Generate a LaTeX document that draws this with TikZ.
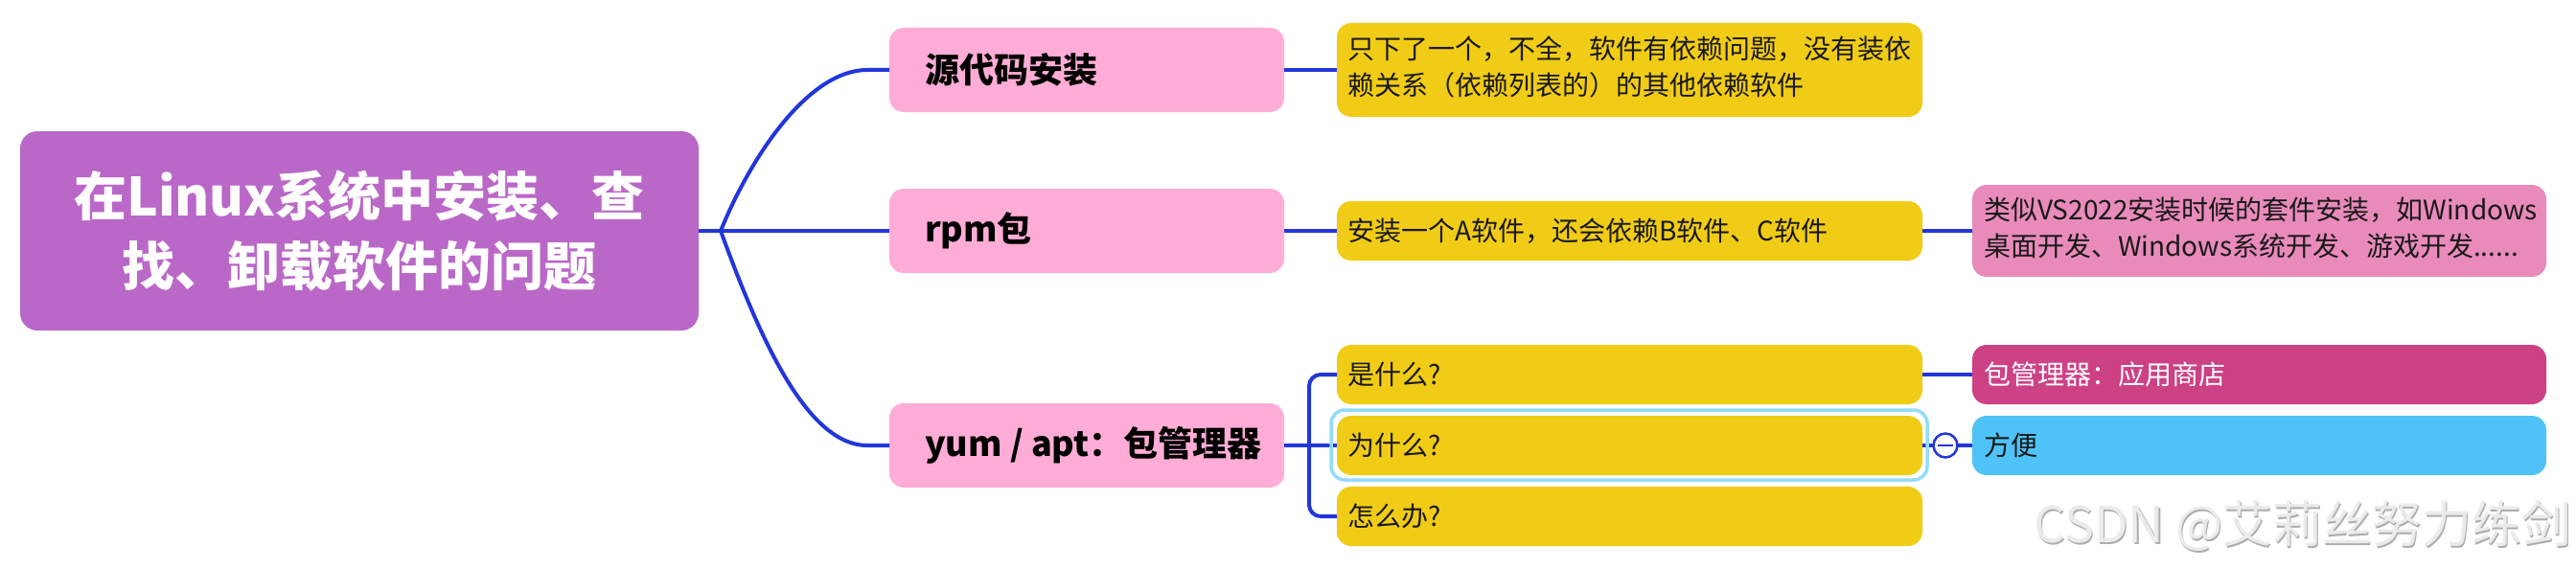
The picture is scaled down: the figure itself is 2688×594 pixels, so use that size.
\documentclass[tikz,border=0pt]{standalone}
\usepackage{fontspec}
\newfontfamily\cjk{Noto Sans CJK SC}
\usetikzlibrary{calc}
\definecolor{rootc}{HTML}{BA68C8}
\definecolor{pinkc}{HTML}{FFADD6}
\definecolor{yelc}{HTML}{F1CC16}
\definecolor{rpc}{HTML}{E98BBA}
\definecolor{magc}{HTML}{CD4185}
\definecolor{cyanc}{HTML}{4FC3F7}
\definecolor{linec}{HTML}{2236D9}
\definecolor{hlc}{HTML}{93DCF9}
\begin{document}
\begin{tikzpicture}[x=1pt,y=-1pt,
  box/.style={rounded corners=15pt, inner ysep=0pt, outer sep=0pt, anchor=west},
  lone/.style={box, fill=pinkc, minimum width=412pt, minimum height=88pt, inner xsep=37pt, text=black, font=\cjk\bfseries\fontsize{36}{40}\selectfont},
  yel/.style={box, fill=yelc, minimum width=611pt, minimum height=62pt, inner xsep=11pt, text=black!90, font=\cjk\fontsize{28}{37.5}\selectfont},
  rbox/.style={box, minimum width=599pt, minimum height=62pt, inner xsep=12pt, font=\cjk\fontsize{28}{37.5}\selectfont},
  conn/.style={draw=linec, line width=4pt},
  hl/.style={draw=hlc, line width=3.5pt, rounded corners=14pt}
]
\useasboundingbox (0,0) rectangle (2688,594);

% root
\node[box, fill=rootc, minimum width=708pt, minimum height=208pt, rounded corners=18pt,
      text=white, align=center, font=\cjk\bfseries\fontsize{55}{73}\selectfont]
      (root) at (21,241) {在Linux系统中安装、查\\找、卸载软件的问题};

% level 1
\node[lone] (s1)  at (928,73)  {\makebox[338pt][l]{源代码安装}};
\node[lone] (rpm) at (928,241) {\makebox[338pt][l]{rpm包}};
\node[lone] (yum) at (928,465) {\makebox[338pt][l]{yum / apt：包管理器}};

% level 2
\node[yel, minimum height=98pt] (y1) at (1395,73)
  {\makebox[589pt][l]{\begin{tabular}{@{}l@{}}只下了一个，不全，软件有依赖问题，没有装依\\赖关系（依赖列表的）的其他依赖软件\end{tabular}}};
\node[yel] (y2) at (1395,241) {\makebox[589pt][l]{安装一个A软件，还会依赖B软件、C软件}};
\node[yel] (what) at (1395,391) {\makebox[589pt][l]{是什么?}};
\node[yel] (why)  at (1395,465) {\makebox[589pt][l]{为什么?}};
\node[yel] (how)  at (1395,539) {\makebox[589pt][l]{怎么办?}};

% level 3
\node[rbox, fill=rpc, minimum height=96pt, text=black!90] (rp) at (2058,241)
  {\makebox[575pt][l]{\begin{tabular}{@{}l@{}}类似VS2022安装时候的套件安装，如Windows\\桌面开发、Windows系统开发、游戏开发......\end{tabular}}};
\node[rbox, fill=magc, text=white] (store) at (2058,391) {\makebox[575pt][l]{包管理器：应用商店}};
\node[rbox, fill=cyanc, text=black!90] (conv) at (2058,465) {\makebox[575pt][l]{方便}};

% connectors
\coordinate (hub) at (752,241);
\coordinate (fork) at (1366,465);
\draw[conn] (root.east) -- (hub);
\draw[conn] (hub) .. controls (785,160) and (845,73) .. (905,73) -- (s1.west);
\draw[conn] (hub) -- (rpm.west);
\draw[conn] (hub) .. controls (790,345) and (840,465) .. (905,465) -- (yum.west);
\draw[conn] (s1.east) -- (y1.west);
\draw[conn] (rpm.east) -- (y2.west);
\draw[conn] (y2.east) -- (rp.west);
\draw[conn] (yum.east) -- (why.west);
\draw[conn, rounded corners=12pt] (what.west) -| (fork) |- (how.west);
\draw[conn] (what.east) -- (store.west);
\draw[conn] (why.east) -- (conv.west);

% selection highlight
\draw[hl] ($(why.north west)+(-6,-6)$) rectangle ($(why.south east)+(5,5)$);

% collapse toggle
\node[circle, draw=linec, line width=2.5pt, fill=white, minimum size=25pt, inner sep=0pt] (tog) at (2030,465) {};
\draw[linec, line width=2.5pt] ($(tog.center)+(-8,0)$) -- ($(tog.center)+(8,0)$);

% watermark
\node[anchor=west, inner sep=0pt, font=\cjk\fontsize{52}{52}\selectfont, text=black!32] (wms) at (2123.5,550.5) {CSDN @艾莉丝努力练剑};
\node[anchor=west, inner sep=0pt, font=\cjk\fontsize{52}{52}\selectfont, text=black!8] (wm) at (2122,549) {CSDN @艾莉丝努力练剑};
\end{tikzpicture}
\end{document}
